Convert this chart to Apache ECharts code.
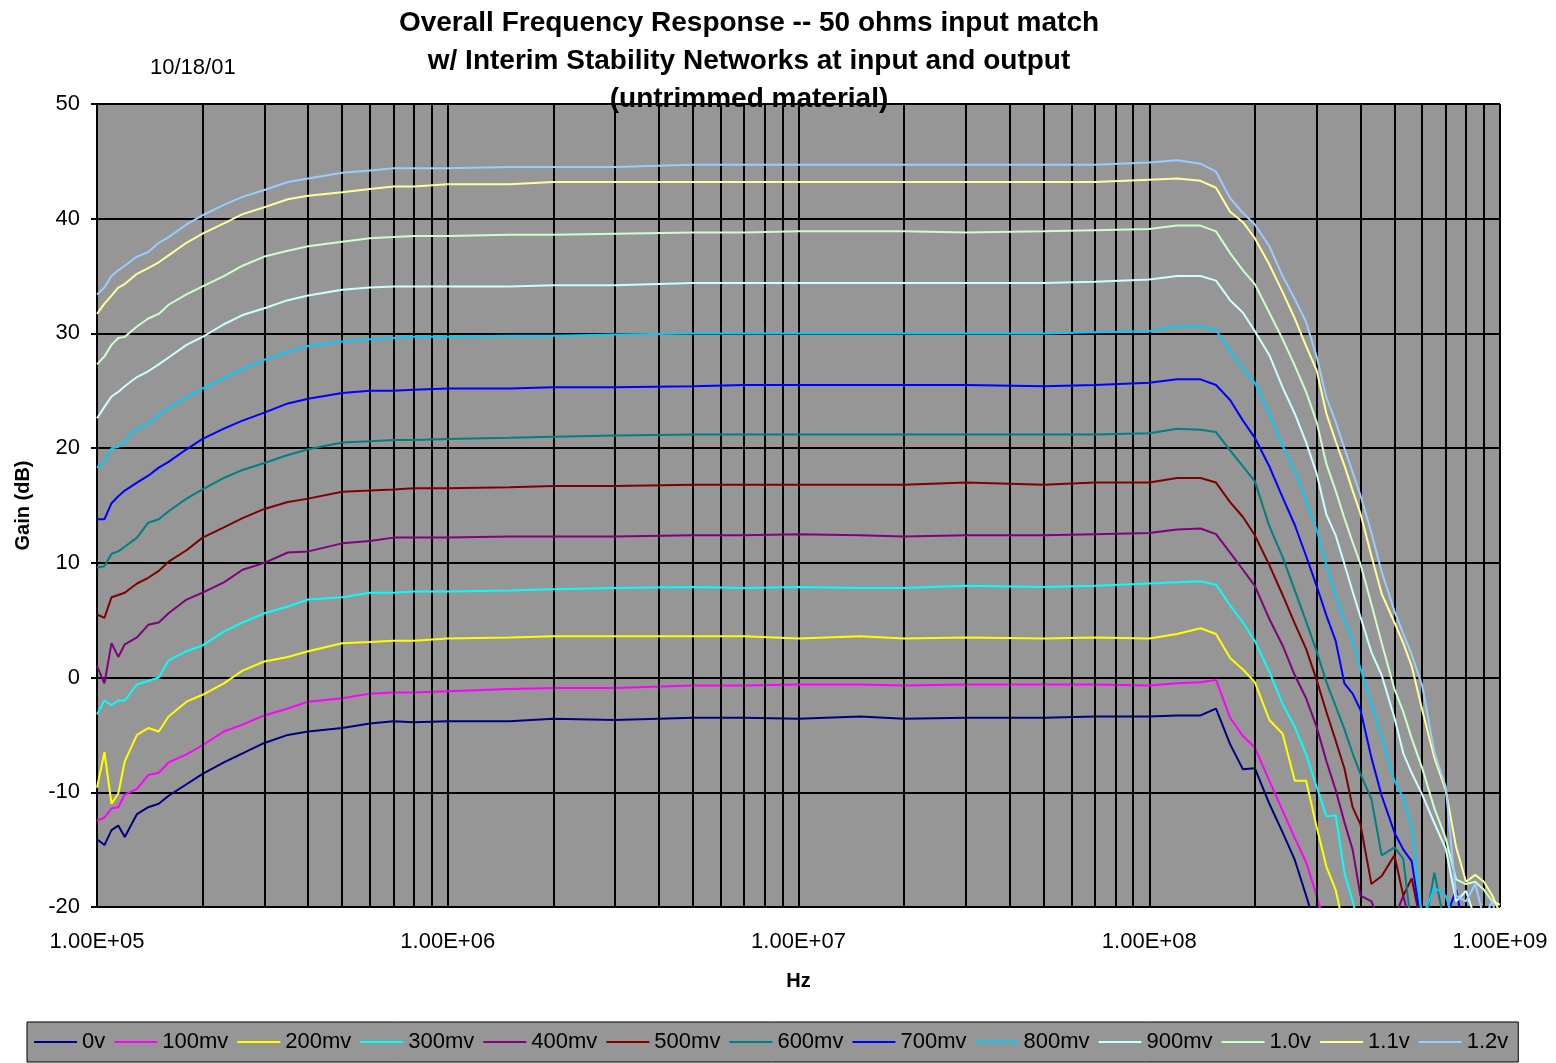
<!DOCTYPE html>
<html><head><meta charset="utf-8">
<script src="https://cdn.jsdelivr.net/npm/echarts@6/dist/echarts.min.js"></script>
<style>html,body{margin:0;padding:0;background:#fff}#c{width:1556px;height:1063px}</style>
</head><body><div id="c"></div>
<script>
// Frequency points (Hz)
const freqHz = [1.0e5,1.05e5,1.1e5,1.15e5,1.2e5,1.3e5,1.4e5,1.5e5,1.6e5,1.8e5,2.0e5,2.3e5,2.6e5,3.0e5,3.5e5,4.0e5,5.0e5,6.0e5,7.0e5,8.0e5,
  1.0e6,1.5e6,2e6,3e6,5e6,7e6,1e7,1.5e7,2e7,3e7,5e7,7e7,1e8,1.2e8,1.4e8,1.55e8,1.7e8,1.85e8,2.0e8,2.2e8,
  2.4e8,2.6e8,2.8e8,3.0e8,3.2e8,3.4e8,3.6e8,3.8e8,4.0e8,4.3e8,4.6e8,5.0e8,5.3e8,5.6e8,6.0e8,6.5e8,7.0e8,7.5e8,8.0e8,8.5e8,9.0e8,9.5e8,1.0e9];

const seriesNames = ['0v','100mv','200mv','300mv','400mv','500mv','600mv','700mv','800mv','900mv','1.0v','1.1v','1.2v'];
const seriesColors = ['#000080','#FF00FF','#FFFF00','#00FFFF','#800080','#800000','#008080','#0000FF','#00CCFF','#CCFFFF','#CCFFCC','#FFFF99','#99CCFF'];

// Gain (dB) per bias level
const g0v = [-14.1,-14.6,-13.3,-12.9,-13.9,-11.9,-11.3,-11.0,-10.3,-9.3,-8.4,-7.4,-6.6,-5.7,-5.0,-4.7,-4.4,-4.0,-3.8,-3.9,
  -3.8,-3.8,-3.6,-3.7,-3.5,-3.5,-3.6,-3.4,-3.6,-3.5,-3.5,-3.4,-3.4,-3.3,-3.3,-2.7,-5.8,-8.0,-7.9,-11.0,
  -13.5,-15.9,-19.0,-22,-23,-23,-23,-23,-23,-23,-23,-23,-23,-23,-23,-23,-23,-23,-23,-23,-23,-23,-23];
const g100mv = [-12.5,-12.2,-11.4,-11.3,-10.2,-9.7,-8.5,-8.3,-7.4,-6.7,-5.9,-4.7,-4.1,-3.3,-2.7,-2.1,-1.8,-1.4,-1.3,-1.3,
  -1.2,-1.0,-0.9,-0.9,-0.7,-0.7,-0.6,-0.6,-0.7,-0.6,-0.6,-0.6,-0.7,-0.5,-0.4,-0.2,-3.5,-5.1,-6.1,-9.0,
  -11.6,-14.0,-16.1,-19.0,-22,-23,-23,-23,-23,-23,-23,-23,-23,-23,-23,-23,-23,-23,-23,-23,-23,-23,-23];
const g200mv = [-9.6,-6.5,-11.0,-10.1,-7.3,-5.0,-4.4,-4.7,-3.4,-2.1,-1.5,-0.5,0.6,1.4,1.8,2.3,3.0,3.1,3.2,3.2,
  3.4,3.5,3.6,3.6,3.6,3.6,3.4,3.6,3.4,3.5,3.4,3.5,3.4,3.8,4.3,3.8,1.7,0.7,-0.4,-3.7,
  -4.9,-9.0,-9.0,-13.0,-16.5,-18.5,-22,-23,-23,-23,-23,-23,-23,-23,-23,-23,-23,-23,-23,-23,-23,-23,-23];
const g300mv = [-3.2,-2.0,-2.4,-2.0,-2.0,-0.6,-0.3,0.0,1.5,2.3,2.8,4.0,4.8,5.6,6.2,6.8,7.0,7.4,7.4,7.5,
  7.5,7.6,7.7,7.8,7.9,7.8,7.9,7.8,7.8,8.0,7.9,8.0,8.2,8.3,8.4,8.1,6.3,4.8,3.2,0.5,
  -2.3,-4.3,-6.7,-9.5,-12.1,-12.0,-17.0,-19.5,-22,-23,-23,-23,-23,-23,-23,-23,-23,-23,-23,-23,-23,-23,-23];
const g400mv = [1.0,-0.5,3.0,1.8,2.9,3.5,4.6,4.8,5.6,6.8,7.4,8.3,9.4,10.0,10.9,11.0,11.7,11.9,12.2,12.2,
  12.2,12.3,12.3,12.3,12.4,12.4,12.5,12.4,12.3,12.4,12.4,12.5,12.6,12.9,13.0,12.5,10.9,9.4,8.0,5.1,
  2.8,0.2,-1.8,-4.3,-7.3,-9.8,-12.6,-15.0,-19.0,-19.5,-22,-21,-19.0,-22,-23,-23,-23,-23,-23,-23,-23,-23,-23];
const g500mv = [5.5,5.2,7.0,7.2,7.4,8.2,8.7,9.3,10.1,11.1,12.2,13.1,13.9,14.7,15.3,15.6,16.2,16.3,16.4,16.5,
  16.5,16.6,16.7,16.7,16.8,16.8,16.8,16.8,16.8,17.0,16.8,17.0,17.0,17.4,17.4,17.0,15.3,14.0,12.4,9.8,
  7.2,4.7,2.5,-0.2,-3.0,-5.5,-7.9,-11.3,-12.8,-18.0,-17.3,-15.5,-19.0,-17.5,-22,-23,-23,-23,-23,-23,-23,-23,-23];
const g600mv = [9.6,9.7,10.8,11.0,11.4,12.2,13.5,13.8,14.5,15.6,16.4,17.4,18.1,18.7,19.4,19.9,20.5,20.6,20.7,20.7,
  20.8,20.9,21.0,21.1,21.2,21.2,21.2,21.2,21.2,21.2,21.2,21.2,21.3,21.7,21.6,21.4,19.8,18.4,17.1,13.2,
  10.5,7.6,4.9,2.3,-0.4,-2.5,-4.5,-6.6,-8.4,-10.6,-15.5,-14.8,-15.8,-22,-23,-17.0,-22,-23,-23,-23,-23,-23,-23];
const g700mv = [13.8,13.8,15.2,15.8,16.3,17.0,17.6,18.3,18.8,19.9,20.8,21.7,22.4,23.1,23.9,24.3,24.8,25.0,25.0,25.1,
  25.2,25.2,25.3,25.3,25.4,25.5,25.5,25.5,25.5,25.5,25.4,25.5,25.7,26.0,26.0,25.5,24.2,22.4,20.9,18.4,
  15.7,13.3,10.6,8.0,5.4,3.2,-0.5,-1.4,-2.8,-7.0,-10.3,-13.5,-15.0,-16.0,-22,-23,-21,-18.5,-23,-23,-23,-23,-23];
const g800mv = [18.3,18.8,20.0,20.1,20.6,21.7,22.1,22.9,23.5,24.4,25.2,26.1,26.9,27.7,28.4,28.9,29.3,29.5,29.6,29.7,
  29.7,29.8,29.8,29.9,30.0,30.0,30.0,30.0,30.0,30.0,30.0,30.1,30.2,30.6,30.6,30.3,28.5,26.9,25.7,23.0,
  20.2,18.0,15.4,12.9,9.8,7.1,5.0,3.3,0.8,-2.3,-5.3,-9.0,-10.5,-13.0,-21,-18.3,-19.0,-22,-23,-23,-23,-23,-23];
const g900mv = [22.6,23.6,24.5,24.9,25.4,26.2,26.7,27.3,27.9,29.0,29.7,30.8,31.6,32.2,32.9,33.3,33.8,34.0,34.1,34.1,
  34.1,34.1,34.2,34.2,34.4,34.4,34.4,34.4,34.4,34.4,34.4,34.5,34.7,35.0,35.0,34.6,32.9,31.8,30.2,28.1,
  25.3,23.0,20.5,17.8,14.2,12.4,9.9,7.5,5.3,2.2,0.2,-3.5,-6.6,-8.3,-10.2,-12.7,-14.9,-19.5,-18.6,-21,-22,-23,-23];
const g1000mv = [27.3,28.0,29.0,29.6,29.7,30.6,31.3,31.7,32.5,33.4,34.1,35.0,35.9,36.7,37.2,37.6,38.0,38.3,38.4,38.5,
  38.5,38.6,38.6,38.7,38.8,38.8,38.9,38.9,38.9,38.8,38.9,39.0,39.1,39.4,39.4,38.9,37.0,35.5,34.3,31.8,
  29.5,27.2,24.9,22.3,18.6,16.3,13.9,11.8,9.9,6.4,3.0,-1.0,-3.0,-5.3,-7.9,-11.4,-14.0,-17.6,-18.0,-17.8,-18.5,-19.5,-19.8];
const g1100mv = [31.7,32.6,33.3,34.0,34.3,35.2,35.7,36.2,36.8,37.9,38.7,39.6,40.4,41.0,41.7,42.0,42.3,42.6,42.8,42.8,
  43.0,43.0,43.2,43.2,43.2,43.2,43.2,43.2,43.2,43.2,43.2,43.2,43.4,43.5,43.3,42.7,40.6,39.7,38.3,36.0,
  33.6,31.3,28.9,26.8,23.0,20.6,18.5,16.3,14.3,10.6,7.3,4.8,3.0,1.0,-2.8,-7.0,-9.8,-14.8,-17.8,-17.2,-17.8,-19.0,-20.5];
const g1200mv = [33.4,34.0,35.0,35.5,35.9,36.7,37.1,37.9,38.4,39.5,40.3,41.2,41.9,42.5,43.2,43.5,44.0,44.2,44.4,44.4,
  44.4,44.5,44.5,44.5,44.7,44.7,44.7,44.7,44.7,44.7,44.7,44.7,44.9,45.1,44.8,44.1,41.8,40.5,39.5,37.6,
  35.0,33.0,31.0,28.0,24.4,22.3,20.0,17.9,15.9,12.6,9.2,5.8,3.8,2.0,-0.7,-6.5,-9.5,-19.0,-19.5,-18.0,-21,-19.5,-22];

const gainSeries = [g0v,g100mv,g200mv,g300mv,g400mv,g500mv,g600mv,g700mv,g800mv,g900mv,g1000mv,g1100mv,g1200mv];

// Log-scale minor gridline positions (Hz)
const minorGridHz = [2e5,3e5,4e5,5e5,6e5,7e5,8e5,9e5, 2e6,3e6,4e6,5e6,6e6,7e6,8e6,9e6,
  2e7,3e7,4e7,5e7,6e7,7e7,8e7,9e7, 2e8,3e8,4e8,5e8,6e8,7e8,8e8,9e8];

const titleLines = ['Overall Frequency Response -- 50 ohms input match','w/ Interim Stability Networks at input and output','(untrimmed material)'];
const dateText = '10/18/01';

const FONT = '"Liberation Sans", Arial, sans-serif';
const chart = echarts.init(document.getElementById('c'), null, {renderer: 'canvas'});

function fmtExp(v) {
  const e = Math.round(Math.log10(v));
  const m = v / Math.pow(10, e);
  return m.toFixed(2) + 'E+' + String(e).padStart(2, '0');
}

const series = [{
  name: '_grid', type: 'line', data: [], silent: true, z: 1,
  markLine: {
    silent: true, symbol: ['none','none'], label: {show: false},
    lineStyle: {color: '#000', width: 2, type: 'solid'},
    emphasis: {disabled: true},
    animation: false,
    data: minorGridHz.map(f => ({xAxis: f}))
  }
}];
gainSeries.forEach((vals, i) => {
  series.push({
    name: seriesNames[i], type: 'line', symbol: 'none', showSymbol: false,
    data: freqHz.map((f, k) => [f, vals[k]]),
    lineStyle: {color: seriesColors[i], width: 2},
    itemStyle: {color: seriesColors[i]},
    clip: true, z: 3 + i, animation: false
  });
});

chart.setOption({
  animation: false,
  backgroundColor: '#ffffff',
  title: {
    text: titleLines.join('\n'), left: 744, top: -1, textAlign: 'center',
    textStyle: {fontFamily: FONT, fontSize: 28, fontWeight: 'bold', color: '#000', lineHeight: 38}
  },
  graphic: [{
    type: 'text', left: 150, top: 57,
    style: {text: dateText, font: '22px ' + FONT, fill: '#000'}
  }],
  grid: {left: 97, right: 56, top: 104, bottom: 156, show: true, backgroundColor: '#969696', borderColor: '#808080', borderWidth: 1},
  legend: {
    data: seriesNames, left: 27, top: 1022, width: 1520,
    icon: 'rect', itemWidth: 43, itemHeight: 2, itemGap: 9,
    padding: [9, 10, 9, 7],
    backgroundColor: '#969696', borderColor: '#000', borderWidth: 1,
    textStyle: {fontFamily: FONT, fontSize: 22, color: '#000', padding: [0, 0, 0, 0]}
  },
  xAxis: {
    type: 'log', logBase: 10, min: 1e5, max: 1e9, splitNumber: 4,
    name: 'Hz', nameLocation: 'middle', nameGap: 64,
    nameTextStyle: {fontFamily: FONT, fontSize: 20, fontWeight: 'bold', color: '#000'},
    axisLine: {lineStyle: {color: '#000', width: 2}},
    axisTick: {show: true, length: 7, lineStyle: {color: '#000', width: 2}},
    axisLabel: {formatter: fmtExp, fontFamily: FONT, fontSize: 22, color: '#000', margin: 24},
    splitLine: {show: true, lineStyle: {color: '#000', width: 2}},
    minorTick: {show: false}, minorSplitLine: {show: false}
  },
  yAxis: {
    type: 'value', min: -20, max: 50, interval: 10,
    name: 'Gain (dB)', nameLocation: 'middle', nameGap: 64, nameRotate: 90,
    nameTextStyle: {fontFamily: FONT, fontSize: 20, fontWeight: 'bold', color: '#000'},
    axisLine: {show: true, lineStyle: {color: '#000', width: 2}},
    axisTick: {show: true, length: 6, lineStyle: {color: '#000', width: 2}},
    axisLabel: {fontFamily: FONT, fontSize: 22, color: '#000', margin: 17},
    splitLine: {show: true, lineStyle: {color: '#000', width: 2}}
  },
  series: series
});
</script>
</body></html>
